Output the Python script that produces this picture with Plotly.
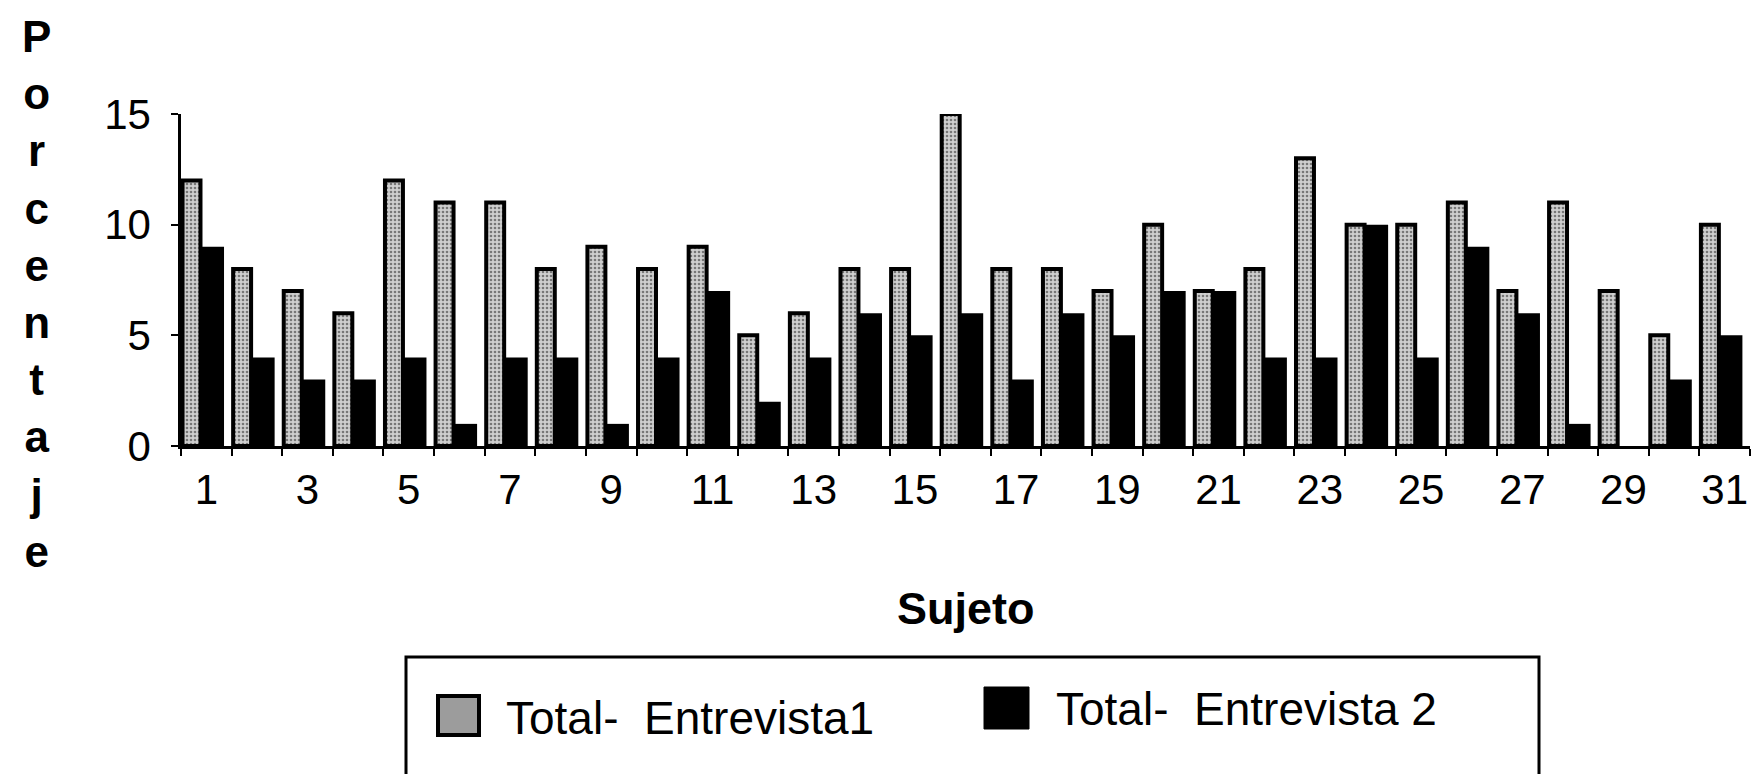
import plotly.graph_objects as go

# ---- data ----
subjects = list(range(1, 32))
entrevista1 = [12, 8, 7, 6, 12, 11, 11, 8, 9, 8, 9, 5, 6, 8, 8, 15,
               8, 8, 7, 10, 7, 8, 13, 10, 10, 11, 7, 11, 7, 5, 10]
entrevista2 = [9, 4, 3, 3, 4, 1, 4, 4, 1, 4, 7, 2, 4, 6, 5, 6,
               3, 6, 5, 7, 7, 4, 4, 10, 4, 9, 6, 1, 0, 3, 5]
tick_subjects = list(range(1, 32, 2))
tick_labels = [str(s) for s in tick_subjects]
y_ticks = [0, 5, 10, 15]
series_names = ["Total-\u00a0\u00a0Entrevista1", "Total-\u00a0\u00a0Entrevista\u00a02"]
x_title = "Sujeto"
y_title = "Porcentaje"

# ---- layout geometry (pixels) ----
W, H = 1762, 774
L, R, T, B = 173, 1742, 106, 438
FONT = "Liberation Sans, Arial, Helvetica, sans-serif"


def px(x):
    return (x - L) / (R - L)


def py(y):
    return (B - y) / (B - T)


fig = go.Figure()
fig.add_trace(go.Bar(
    x=subjects, y=entrevista1, name=series_names[0],
    offset=-0.47, width=0.355, cliponaxis=False,
    marker=dict(color="#c4c4c4",
                pattern=dict(shape=".", fgcolor="#202020", bgcolor="#cfcfcf",
                             size=4, solidity=0.35),
                line=dict(color="#000000", width=4)),
    showlegend=False,
))
fig.add_trace(go.Bar(
    x=subjects, y=entrevista2, name=series_names[1],
    offset=-0.115, width=0.465, cliponaxis=False,
    marker=dict(color="#000000", line=dict(width=0)),
    showlegend=False,
))

shapes = [
    # legend box
    dict(type="rect", xref="paper", yref="paper",
         x0=px(398), x1=px(1531), y0=py(649), y1=py(768),
         line=dict(color="#000000", width=3), fillcolor="rgba(0,0,0,0)"),
    # swatch 1
    dict(type="rect", xref="paper", yref="paper",
         x0=px(430), x1=px(471), y0=py(688), y1=py(727),
         line=dict(color="#000000", width=4), fillcolor="#9c9c9c"),
    # swatch 2
    dict(type="rect", xref="paper", yref="paper",
         x0=px(976), x1=px(1021), y0=py(679), y1=py(721),
         line=dict(color="#000000", width=1), fillcolor="#000000"),
]

annotations = [
    dict(text="<br>".join(list(y_title)), xref="paper", yref="paper",
         x=px(28), y=py(286), xanchor="center", yanchor="middle",
         showarrow=False, align="center",
         font=dict(family=FONT, size=44, color="#000000", weight="bold")),
    dict(text=x_title, xref="paper", yref="paper",
         x=px(958), y=py(600), xanchor="center", yanchor="middle",
         showarrow=False,
         font=dict(family=FONT, size=45, color="#000000", weight="bold")),
    dict(text=series_names[0], xref="paper", yref="paper",
         x=px(496), y=py(710), xanchor="left", yanchor="middle",
         showarrow=False,
         font=dict(family=FONT, size=46, color="#000000")),
    dict(text=series_names[1], xref="paper", yref="paper",
         x=px(1046), y=py(701), xanchor="left", yanchor="middle",
         showarrow=False,
         font=dict(family=FONT, size=46, color="#000000")),
]

fig.update_layout(
    width=W, height=H,
    margin=dict(l=L, r=W - R, t=T, b=H - B, pad=0),
    paper_bgcolor="#ffffff", plot_bgcolor="#ffffff",
    barmode="overlay",
    showlegend=False,
    shapes=shapes,
    annotations=annotations,
    font=dict(family=FONT, color="#000000"),
    xaxis=dict(
        range=[0.5, 31.5], tickmode="array", tickvals=tick_subjects,
        ticktext=tick_labels, ticks="", showgrid=False, zeroline=False,
        showline=True, linecolor="#000000", linewidth=2.5,
        tickfont=dict(family=FONT, size=42, color="#000000"),
        ticklabelstandoff=5,
        minor=dict(tickmode="linear", tick0=0.5, dtick=1, ticks="outside",
                   ticklen=7, tickwidth=2, tickcolor="#000000", showgrid=False),
    ),
    yaxis=dict(
        range=[0, 15], tickmode="array", tickvals=y_ticks,
        ticks="outside", ticklen=7, tickwidth=2, tickcolor="#000000",
        showgrid=False, zeroline=False,
        showline=True, linecolor="#000000", linewidth=2.5,
        tickfont=dict(family=FONT, size=42, color="#000000"),
        ticklabelstandoff=12,
    ),
)

fig.write_html("out.html")
